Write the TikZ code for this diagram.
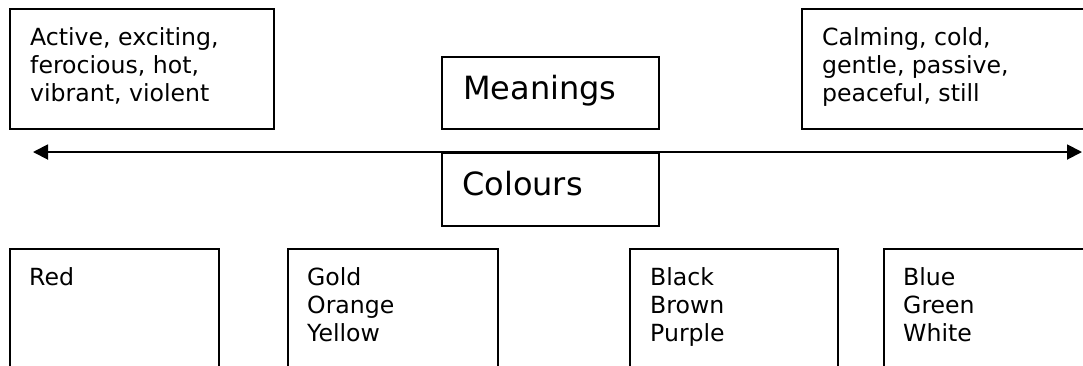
\documentclass[tikz,border=0pt]{standalone}
\usepackage{fontspec}
\setmainfont{DejaVu Sans}
\usetikzlibrary{arrows.meta,calc}

% left-aligned stack of lines, baseline at the first line
\newcommand{\stack}[1]{\begin{tabular}[t]{@{}l@{}}#1\end{tabular}}

\begin{document}
\begin{tikzpicture}[x=1pt, y={(0pt,-1pt)},
  box/.style={draw=black, line width=1.7pt, fill=white, inner sep=0pt, anchor=north west},
  lbl/.style={inner sep=0pt, anchor=base west, font=\fontsize{23.6}{28}\selectfont},
  head/.style={inner sep=0pt, anchor=base west, font=\fontsize{32}{38}\selectfont},
  conn/.style={line width=1.9pt, {Triangle[length=15pt,width=15pt]}-{Triangle[length=15pt,width=15pt]}}
]
\useasboundingbox (0,0) rectangle (1083,365);
\clip (0,0) rectangle (1083,365);

% meaning boxes
\node[box, minimum width=264pt, minimum height=120pt] (hot) at (9,8) {};
\node[box, minimum width=300pt, minimum height=120pt] (cold) at (801,8) {};
\node[lbl] (hottext) at ($(hot.north west)+(21,37)$) {\stack{Active, exciting,\\ferocious, hot,\\vibrant, violent}};
\node[lbl] (coldtext) at ($(cold.north west)+(21,37)$) {\stack{Calming, cold,\\gentle, passive,\\peaceful, still}};

% centre headings
\node[box, minimum width=217pt, minimum height=72pt] (meanings) at (441,56) {};
\node[head] (meaningstext) at ($(meanings.north west)+(22,43)$) {Meanings};
\node[box, minimum width=217pt, minimum height=73pt] (colours) at (441,152) {};
\node[head] (colourstext) at ($(colours.north west)+(21,43)$) {Colours};

% scale arrow
\coordinate (leftend) at (33,152);
\coordinate (rightend) at (1082,152);
\draw[conn] (leftend) -- (rightend);

% colour boxes
\node[box, minimum width=209pt, minimum height=160pt] (c1) at (9,248) {};
\node[box, minimum width=210pt, minimum height=160pt] (c2) at (287,248) {};
\node[box, minimum width=208pt, minimum height=160pt] (c3) at (629,248) {};
\node[box, minimum width=220pt, minimum height=160pt] (c4) at (883,248) {};
\node[lbl] (c1text) at ($(c1.north west)+(20,37)$) {\stack{Red}};
\node[lbl] (c2text) at ($(c2.north west)+(20,37)$) {\stack{Gold\\Orange\\Yellow}};
\node[lbl] (c3text) at ($(c3.north west)+(21,37)$) {\stack{Black\\Brown\\Purple}};
\node[lbl] (c4text) at ($(c4.north west)+(20,37)$) {\stack{Blue\\Green\\White}};
\end{tikzpicture}
\end{document}
